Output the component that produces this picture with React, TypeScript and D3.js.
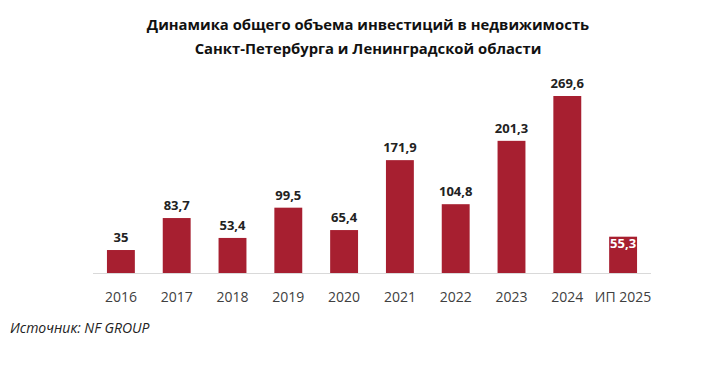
import React from "react";
import * as d3 from "d3";

const categories = ["2016", "2017", "2018", "2019", "2020", "2021", "2022", "2023", "2024", "ИП 2025"];
const values = [35, 83.7, 53.4, 99.5, 65.4, 171.9, 104.8, 201.3, 269.6, 55.3];
const labels = ["35", "83,7", "53,4", "99,5", "65,4", "171,9", "104,8", "201,3", "269,6", "55,3"];
const titleLines = ["Динамика общего объема инвестиций в недвижимость", "Санкт-Петербурга и Ленинградской области"];
const source = "Источник: NF GROUP";

export default function App() {
  const W = 720, H = 382;
  const baseY = 273;
  const x = d3.scaleBand<string>().domain(categories).range([93, 651]).paddingInner(0.5).paddingOuter(0.25);
  const y = d3.scaleLinear().domain([0, 269.6]).range([baseY, 96]);
  const color = "#A71F30";
  const font = "'Open Sans', 'Noto Sans', sans-serif";
  return (
    <svg width={W} height={H} style={{ position: "absolute", left: 0, top: 0, background: "#fff" }}>
      {titleLines.map((t, i) => (
        <text key={i} x={368} y={30 + i * 24} textAnchor="middle" fontFamily={font} fontWeight={700} fontSize={14.8} fill="#111">{t}</text>
      ))}
      <line x1={93} x2={651} y1={baseY + 0.5} y2={baseY + 0.5} stroke="#d9d9d9" strokeWidth={1} />
      {categories.map((c, i) => {
        const bx = x(c)!;
        const by = y(values[i]);
        const last = i === categories.length - 1;
        return (
          <g key={c}>
            <rect x={bx} y={by} width={x.bandwidth()} height={baseY - by} fill={color} />
            <text x={bx + x.bandwidth() / 2} y={last ? by + 11 : by - 8} textAnchor="middle" fontFamily={font} fontWeight={700} fontSize={13} fill={last ? "#fff" : "#222"}>{labels[i]}</text>
            <text x={bx + x.bandwidth() / 2} y={302} textAnchor="middle" fontFamily={font} fontSize={14} fill="#404040">{c}</text>
          </g>
        );
      })}
      <text x={10} y={333} fontFamily={font} fontStyle="italic" fontSize={14} fill="#222">{source}</text>
    </svg>
  );
}
